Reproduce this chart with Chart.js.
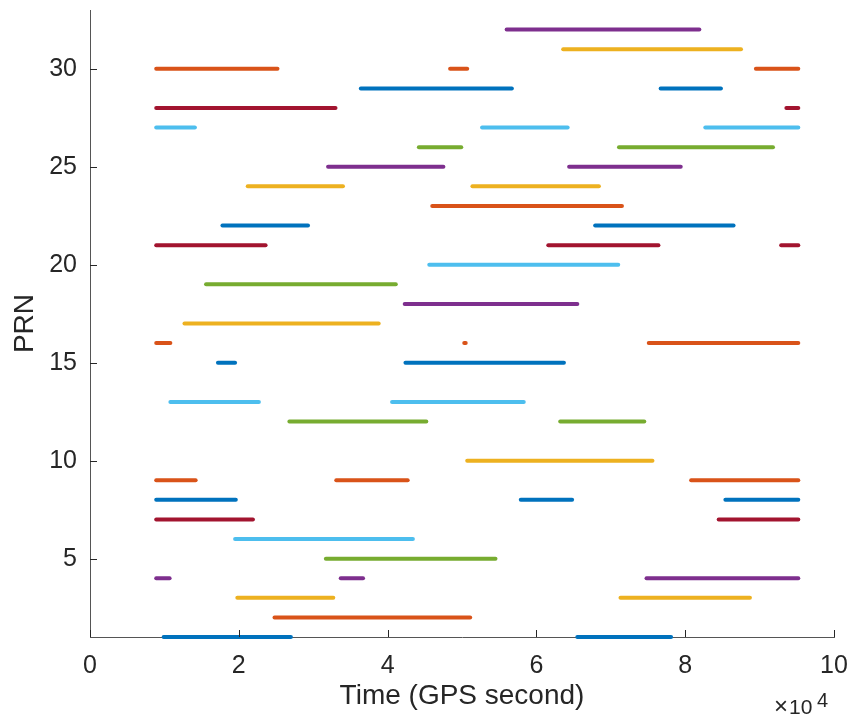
<!DOCTYPE html>
<html>
<head>
<meta charset="utf-8">
<title>PRN visibility</title>
<script src="https://cdn.jsdelivr.net/npm/chart.js@4/dist/chart.umd.min.js"></script>
<style>
  body { margin: 0; background: #fff; }
  #wrap { width: 851px; height: 717px; }
</style>
</head>
<body>
<div id="wrap"><canvas id="chart_prn" width="851" height="717"></canvas></div>
<script>
// one entry per visibility arc: satellite PRN, start and end time (GPS seconds)
var segPrn   = [1, 1, 2, 3, 3, 4, 4, 4, 5, 6, 7, 7, 8, 8, 8, 9, 9, 9, 10, 12, 12, 13, 13, 15, 15,
                16, 16, 16, 17, 18, 19, 20, 21, 21, 21, 22, 22, 23, 24, 24, 25, 25, 26, 26,
                27, 27, 27, 28, 28, 29, 29, 30, 30, 30, 31, 32];
var segStart = [9900, 65500, 24800, 19800, 71300, 8900, 33700, 74800, 31700, 19500, 8900, 84500,
                8900, 57900, 85400, 8900, 33100, 80800, 50700, 26800, 63200, 10800, 40600, 17200, 42400,
                8900, 50300, 75100, 12700, 42300, 15600, 45600, 8900, 61600, 92900, 17800, 67900,
                46000, 21200, 51400, 32000, 64400, 44200, 71100,
                8900, 52700, 82700, 8900, 93600, 36400, 76700, 8900, 48400, 89500, 63600, 56000];
var segEnd   = [27000, 78100, 51100, 32700, 88700, 10700, 36700, 95200, 54500, 43400, 21900, 95200,
                19600, 64800, 95200, 14200, 42700, 95200, 75600, 45200, 74500, 22700, 58300, 19500, 63700,
                10800, 50500, 95200, 38800, 65500, 41100, 71000, 23600, 76400, 95200, 29300, 86500,
                71500, 34000, 68400, 47500, 79400, 49900, 91800,
                14100, 64200, 95200, 33000, 95200, 56700, 84800, 25200, 50700, 95200, 87500, 81900];

var xTicks = [0, 20000, 40000, 60000, 80000, 100000];
var yTicks = [5, 10, 15, 20, 25, 30];

// matlab default colour order, cycled by PRN
var colorOrder = ['#0072BD', '#D95319', '#EDB120', '#7E2F8E', '#77AC30', '#4DBEEE', '#A2142F'];

var fontFamily = '"Liberation Sans", Arial, Helvetica, sans-serif';
var axisColor = '#262626';

function build_datasets() {
  var sets = [];
  segPrn.forEach(function(prn, i) {
    sets.push({
      label: 'PRN ' + prn,
      data: [{x: segStart[i], y: prn}, {x: segEnd[i], y: prn}],
      borderColor: colorOrder[(prn - 1) % colorOrder.length],
      borderWidth: 4,
      borderCapStyle: 'round',
      pointRadius: 0,
      pointHoverRadius: 0,
      tension: 0,
      clip: false
    });
  });
  return sets;
}

// no extra room for half labels, the plot box is fixed
function fixPadding(scale) {
  scale.paddingLeft = 0;
  scale.paddingRight = 0;
  scale.paddingTop = 0;
  scale.paddingBottom = 0;
}

// inward tick marks and the x10^4 exponent, matlab style
var extras = {
  id: 'extras',
  afterDraw: function(chart) {
    var ctx = chart.ctx, area = chart.chartArea;
    var xs = chart.scales.x, ys = chart.scales.y;
    ctx.save();
    ctx.strokeStyle = axisColor;
    ctx.lineWidth = 1;
    ctx.beginPath();
    xTicks.forEach(function(v) {
      var px = Math.round(xs.getPixelForValue(v)) + 0.5;
      ctx.moveTo(px, area.bottom);
      ctx.lineTo(px, area.bottom - 7);
    });
    yTicks.forEach(function(v) {
      var py = Math.round(ys.getPixelForValue(v)) + 0.5;
      ctx.moveTo(area.left, py);
      ctx.lineTo(area.left + 7, py);
    });
    ctx.stroke();

    ctx.fillStyle = axisColor;
    ctx.textBaseline = 'alphabetic';
    ctx.textAlign = 'left';
    ctx.font = '24px ' + fontFamily;
    ctx.fillText('\u00d7', 774, 714);
    ctx.font = '21px ' + fontFamily;
    ctx.fillText('10', 789, 714);
    ctx.font = '20px ' + fontFamily;
    ctx.fillText('4', 817, 707);
    ctx.restore();
  }
};

var ctx = document.getElementById('chart_prn');
var prnChart = new Chart(ctx, {
  type: 'line',
  data: { datasets: build_datasets() },
  options: {
    responsive: false,
    animation: false,
    layout: { padding: { left: 0, right: 17, top: 10, bottom: 0 } },
    plugins: {
      legend: { display: false },
      tooltip: { enabled: false }
    },
    scales: {
      x: {
        type: 'linear',
        min: 0,
        max: 100000,
        afterBuildTicks: function(scale) {
          scale.ticks = xTicks.map(function(v) { return {value: v}; });
        },
        afterFit: function(scale) { scale.height = 80; fixPadding(scale); },
        grid: { display: false, drawTicks: false },
        border: { display: true, color: '#555', width: 1 },
        ticks: {
          padding: 14,
          maxRotation: 0,
          color: axisColor,
          font: { family: fontFamily, size: 25 },
          callback: function(v) { return v / 10000; }
        },
        title: {
          display: true,
          text: 'Time (GPS second)',
          color: axisColor,
          font: { family: fontFamily, size: 28, lineHeight: 1.2 },
          padding: { top: 0, bottom: 4 }
        }
      },
      y: {
        type: 'linear',
        min: 1,
        max: 33,
        afterBuildTicks: function(scale) {
          scale.ticks = yTicks.map(function(v) { return {value: v}; });
        },
        afterFit: function(scale) { scale.width = 90; fixPadding(scale); },
        grid: { display: false, drawTicks: false },
        border: { display: true, color: '#555', width: 1 },
        ticks: {
          padding: 13,
          color: axisColor,
          font: { family: fontFamily, size: 25 }
        },
        title: {
          display: true,
          text: 'PRN',
          color: axisColor,
          font: { family: fontFamily, size: 28, lineHeight: 1.2 },
          padding: { top: 8, bottom: 0 }
        }
      }
    }
  },
  plugins: [extras]
});
</script>
</body>
</html>
